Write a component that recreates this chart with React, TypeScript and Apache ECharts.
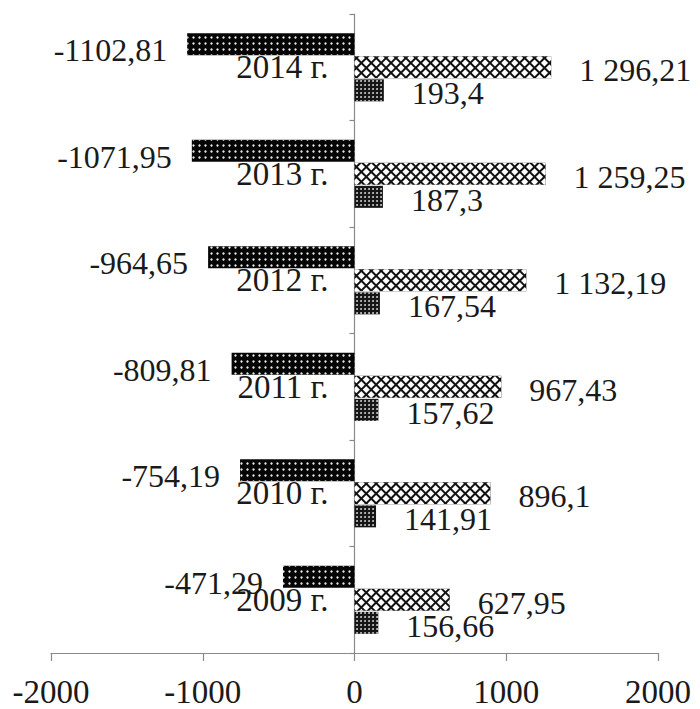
import React, { useEffect, useRef } from "react";
import * as echarts from "echarts";

const categories = ["2009 г.", "2010 г.", "2011 г.", "2012 г.", "2013 г.", "2014 г."];
const seriesDark = [-471.29, -754.19, -809.81, -964.65, -1071.95, -1102.81];
const seriesCross = [627.95, 896.1, 967.43, 1132.19, 1259.25, 1296.21];
const seriesSmall = [156.66, 141.91, 157.62, 167.54, 187.3, 193.4];
const xTicks = { min: -2000, max: 2000, interval: 1000 };

const FONT = "Liberation Serif";
const GRID_LEFT = 51;
const GRID_RIGHT = 42;
const WIDTH = 700;

function fmt(v: number, group: boolean): string {
  const parts = String(Math.abs(v)).split(".");
  let int = parts[0];
  if (group) int = int.replace(/\B(?=(\d{3})+(?!\d))/g, "\u00a0");
  return (v < 0 ? "-" : "") + int + (parts[1] ? "," + parts[1] : "");
}

export default function App() {
  const ref = useRef<HTMLDivElement>(null);
  useEffect(() => {
    if (!ref.current) return;
    const chart = echarts.init(ref.current, null, { renderer: "svg" });
    const labelBase = {
      show: true,
      fontFamily: FONT,
      fontSize: 32,
      color: "#1a1a1a",
    };
    const plotW = WIDTH - GRID_LEFT - GRID_RIGHT;
    const zeroShift = (plotW * (0 - xTicks.min)) / (xTicks.max - xTicks.min);
    chart.setOption({
      animation: false,
      backgroundColor: "#ffffff",
      grid: {
        left: GRID_LEFT,
        right: GRID_RIGHT,
        top: 14,
        bottom: 56,
        containLabel: false,
        outerBoundsMode: "none",
      },
      xAxis: {
        type: "value",
        min: xTicks.min,
        max: xTicks.max,
        interval: xTicks.interval,
        splitLine: { show: false },
        axisLine: { show: true, lineStyle: { color: "#8a8a8a", width: 1.2 } },
        axisTick: { show: true, length: 8, lineStyle: { color: "#8a8a8a", width: 1.2 } },
        axisLabel: {
          fontFamily: FONT,
          fontSize: 33,
          color: "#1a1a1a",
          margin: 22,
          formatter: (v: number) => String(v),
        },
      },
      yAxis: {
        type: "category",
        data: categories,
        position: "left",
        offset: -zeroShift,
        axisLine: { show: true, onZero: false, lineStyle: { color: "#8a8a8a", width: 1.2 } },
        axisTick: { show: true, length: 5, lineStyle: { color: "#8a8a8a", width: 1.2 } },
        axisLabel: {
          fontFamily: FONT,
          fontSize: 33,
          color: "#1a1a1a",
          margin: 26,
          padding: [10, 0, 0, 0],
        },
      },
      series: [
        {
          name: "dark",
          type: "bar",
          data: seriesDark,
          barWidth: 22,
          barGap: "5%",
          itemStyle: {
            color: "#050505",
            decal: {
              symbol: "circle",
              symbolSize: 0.8,
              dashArrayX: [3, 3],
              dashArrayY: [3, 3],
              rotation: 0,
              color: "#e8e8e8",
            },
          },
          label: {
            ...labelBase,
            position: "left",
            distance: 20,
            offset: [0, 6],
            formatter: (p: any) => fmt(p.value, false),
          },
        },
        {
          name: "cross",
          type: "bar",
          data: seriesCross,
          barWidth: 22,
          barGap: "5%",
          itemStyle: {
            color: "#111111",
            decal: {
              symbol: "rect",
              symbolSize: 1,
              dashArrayX: [4.5, 1.3],
              dashArrayY: [4.5, 1.3],
              rotation: Math.PI / 4,
              color: "#ffffff",
            },
          },
          label: {
            ...labelBase,
            position: "right",
            distance: 28,
            offset: [0, 3],
            formatter: (p: any) => fmt(p.value, true),
          },
        },
        {
          name: "small",
          type: "bar",
          data: seriesSmall,
          barWidth: 22,
          barGap: "5%",
          itemStyle: {
            color: "#151515",
            decal: {
              symbol: "circle",
              symbolSize: 0.9,
              dashArrayX: [2, 1.6],
              dashArrayY: [2, 1.6],
              rotation: 0,
              color: "#d8d8d8",
            },
          },
          label: {
            ...labelBase,
            position: "right",
            distance: 28,
            offset: [0, 3],
            formatter: (p: any) => fmt(p.value, false),
          },
        },
      ],
    });
    return () => chart.dispose();
  }, []);
  return (
    <div
      ref={ref}
      style={{ position: "fixed", left: 0, top: 0, width: WIDTH, height: 709, background: "#fff" }}
    />
  );
}
